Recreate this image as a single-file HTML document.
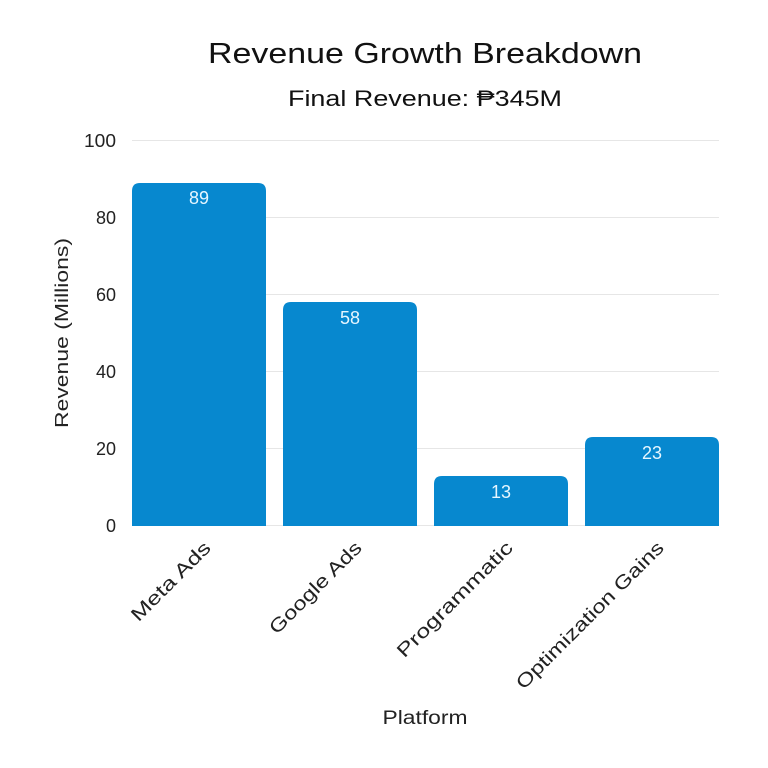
<!DOCTYPE html>
<html><head><meta charset="utf-8"><style>
html,body{margin:0;padding:0;background:#fff;}
svg{display:block;font-family:"Liberation Sans",sans-serif;}
</style></head><body>
<svg width="768" height="768" viewBox="0 0 768 768" xmlns="http://www.w3.org/2000/svg">
<rect width="768" height="768" fill="#fff"/>
<text x="425" y="63" font-size="29" text-anchor="middle" fill="#111" textLength="434" lengthAdjust="spacingAndGlyphs">Revenue Growth Breakdown</text>
<text x="425" y="106" font-size="22" text-anchor="middle" fill="#111" textLength="274" lengthAdjust="spacingAndGlyphs">Final Revenue: ₱345M</text>
<g stroke="#e6e6e6" stroke-width="1">
<line x1="132" y1="140.5" x2="719" y2="140.5"/>
<line x1="132" y1="217.5" x2="719" y2="217.5"/>
<line x1="132" y1="294.5" x2="719" y2="294.5"/>
<line x1="132" y1="371.5" x2="719" y2="371.5"/>
<line x1="132" y1="448.5" x2="719" y2="448.5"/>
<line x1="132" y1="525.5" x2="719" y2="525.5"/>
</g>
<g font-size="18" fill="#222" text-anchor="end">
<text x="116" y="147" textLength="32" lengthAdjust="spacingAndGlyphs">100</text>
<text x="116" y="224">80</text>
<text x="116" y="301">60</text>
<text x="116" y="378">40</text>
<text x="116" y="455">20</text>
<text x="116" y="532">0</text>
</g>
<text transform="translate(68,333) rotate(-90)" font-size="18" fill="#222" text-anchor="middle" textLength="190" lengthAdjust="spacingAndGlyphs">Revenue (Millions)</text>
<g fill="#0788cf">
<path d="M132 526 V191 Q132 183 140 183 H258 Q266 183 266 191 V526 Z"/>
<path d="M283 526 V310 Q283 302 291 302 H409 Q417 302 417 310 V526 Z"/>
<path d="M434 526 V484 Q434 476 442 476 H560 Q568 476 568 484 V526 Z"/>
<path d="M585 526 V445 Q585 437 593 437 H711 Q719 437 719 445 V526 Z"/>
</g>
<g font-size="18" fill="#e6f6ff" text-anchor="middle">
<text x="199" y="204">89</text>
<text x="350" y="324">58</text>
<text x="501" y="498">13</text>
<text x="652" y="459">23</text>
</g>
<g font-size="19" fill="#222" text-anchor="end">
<text transform="translate(212,549) rotate(-45)" textLength="104" lengthAdjust="spacingAndGlyphs">Meta Ads</text>
<text transform="translate(363,549) rotate(-45)" textLength="122" lengthAdjust="spacingAndGlyphs">Google Ads</text>
<text transform="translate(514,549) rotate(-45)" textLength="155" lengthAdjust="spacingAndGlyphs">Programmatic</text>
<text transform="translate(665,549) rotate(-45)" textLength="200" lengthAdjust="spacingAndGlyphs">Optimization Gains</text>
</g>
<text x="425" y="724" font-size="19" fill="#222" text-anchor="middle" textLength="85" lengthAdjust="spacingAndGlyphs">Platform</text>
</svg>
</body></html>
